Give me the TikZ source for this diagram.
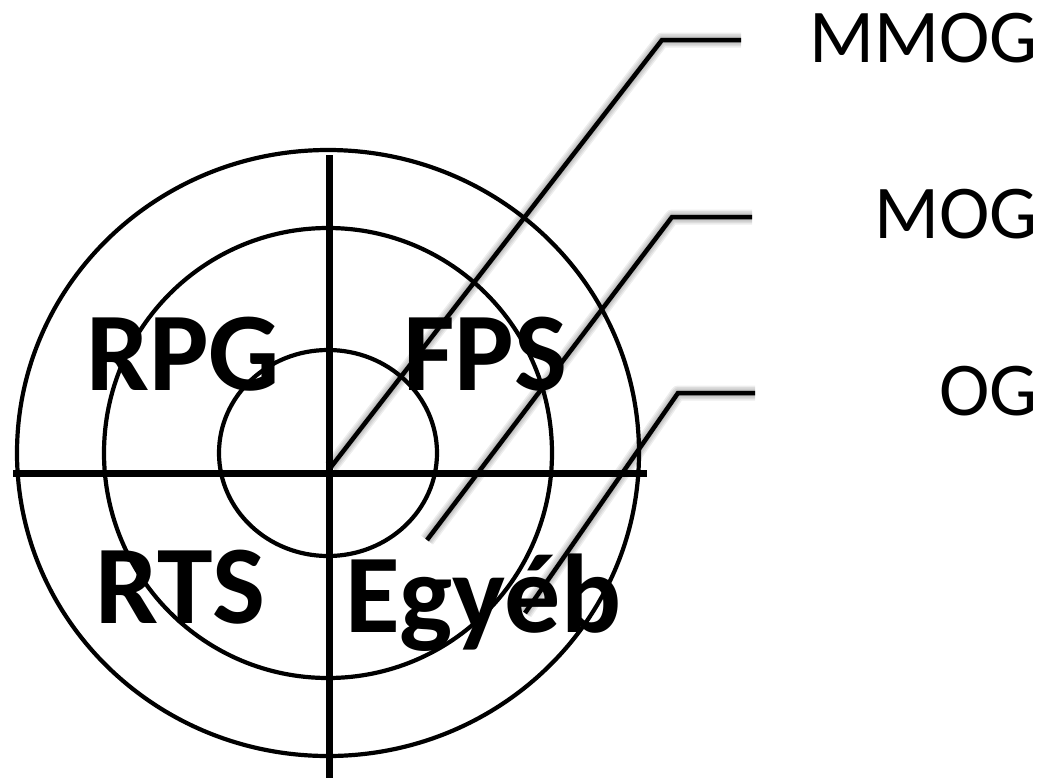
\documentclass[tikz,border=0pt]{standalone}
\usepackage{fontspec}
\setmainfont{Carlito}
\begin{document}
\begin{tikzpicture}[x=1pt,y=-1pt,
  ring/.style={line width=4.2pt, draw=black},
  axis/.style={line width=7pt, draw=black},
  leader/.style={line width=4.5pt, draw=black, line join=miter},
  leadershade/.style={line width=#1, draw=black, opacity=0.07, line join=round},
  genre/.style={font=\fontsize{112}{112}\selectfont\bfseries, inner sep=0pt, anchor=base west},
  tier/.style={font=\fontsize{76}{76}\selectfont, inner sep=0pt, anchor=base east}]
\useasboundingbox (0,0) rectangle (1047,777);
\fill[white] (0,0) rectangle (1047,777);

% concentric rings
\coordinate (c) at (328,453);
\draw[ring] (c) ellipse [x radius=311, y radius=303];
\draw[ring] (c) ellipse [x radius=224, y radius=225];
\draw[ring] (c) ellipse [x radius=109, y radius=103];

% quadrant axes
\coordinate (vt) at (329,155);
\coordinate (vb) at (329,780);
\coordinate (hl) at (13,473);
\coordinate (hr) at (647,473);
\draw[axis] (vt) -- (vb);
\draw[axis] (hl) -- (hr);

% genre labels
\node[genre] (rpg) at (86,390) {RPG};
\node[genre] (fps) at (403,390) {FPS};
\node[genre] (rts) at (95,623) {RTS};
\node[genre] (egyeb) at (345,632) {Egyéb};

% tier labels
\node[tier] (mmog) at (1038,62) {MMOG};
\node[tier] (mog) at (1038,238) {MOG};
\node[tier] (og) at (1038,415) {OG};

% leader line points
\coordinate (a0) at (331,467);
\coordinate (a1) at (662,40);
\coordinate (a2) at (741,40);
\coordinate (b0) at (427,540);
\coordinate (b1) at (672,217);
\coordinate (b2) at (752,217);
\coordinate (d0) at (525,613);
\coordinate (d1) at (678,393);
\coordinate (d2) at (755,393);

% soft shadows under the leader lines
\foreach \w in {6pt,9pt,12pt,15pt}{
  \draw[leadershade=\w, shift={(3,6)}] (a0) -- (a1) -- (a2);
  \draw[leadershade=\w, shift={(3,6)}] (b0) -- (b1) -- (b2);
  \draw[leadershade=\w, shift={(3,6)}] (d0) -- (d1) -- (d2);
}

% leader lines
\draw[leader] (a0) -- (a1) -- (a2);
\draw[leader] (b0) -- (b1) -- (b2);
\draw[leader] (d0) -- (d1) -- (d2);
\end{tikzpicture}
\end{document}
